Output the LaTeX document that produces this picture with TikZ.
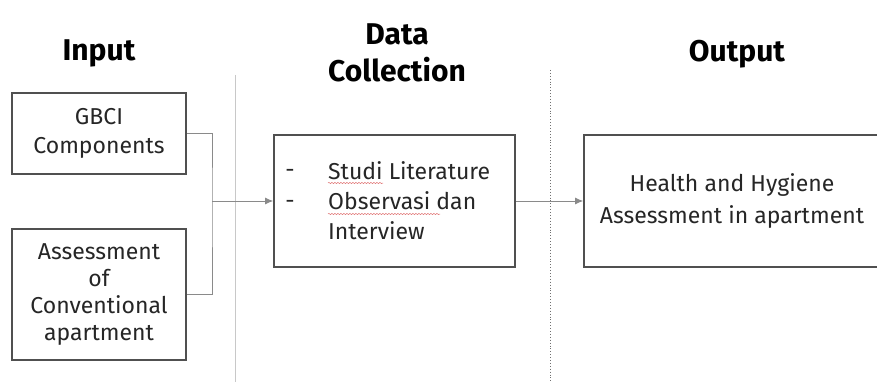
\documentclass[tikz,border=0pt]{standalone}
\usepackage{fontspec}
\setmainfont{Fira Sans}
\usetikzlibrary{arrows.meta,decorations.pathmorphing}
\definecolor{boxgray}{HTML}{505050}
\definecolor{txtgray}{HTML}{262626}
\definecolor{lingray}{HTML}{8A8A8A}
\definecolor{sepgray}{HTML}{C8C8C8}
\definecolor{dotgray}{HTML}{707070}
\definecolor{squig}{HTML}{E07070}
\begin{document}
\begin{tikzpicture}[x=1pt,y=-1pt,
 box/.style={draw=boxgray, line width=1.6pt, inner sep=0pt, text=txtgray, align=center,
   font=\fontsize{23}{29}\selectfont},
 head/.style={font=\fontsize{30}{37}\selectfont\bfseries, text=black, align=center, inner sep=0pt},
 body/.style={font=\fontsize{23}{30}\selectfont, text=txtgray, inner sep=0pt},
 conn/.style={draw=lingray, line width=0.9pt},
 arr/.style={conn, -{Latex[length=8pt,width=7pt]}},
 squiggle/.style={draw=squig, line width=0.5pt, decorate,
   decoration={snake, amplitude=0.6pt, segment length=3pt}},
]
\fill[white] (0,0) rectangle (877,382);
\useasboundingbox (0,0) rectangle (877,382);

% separators
\coordinate (s1t) at (235,75);
\coordinate (s1b) at (235,382);
\coordinate (s2t) at (550,70);
\coordinate (s2b) at (550,382);
\draw[sepgray, line width=1pt] (s1t) -- (s1b);
\draw[dotgray, line width=0.9pt, dotted] (s2t) -- (s2b);

% headings
\node[head, anchor=base] (hin) at (99,61) {Input};
\node[head] (hdc) at (397,53) {Data\\Collection};
\node[head, anchor=base] (hout) at (737,62) {Output};

% boxes
\node[box, minimum width=174pt, minimum height=81pt] (gbci) at (99,133.5) {GBCI\\Components};
\node[box, minimum width=174pt, minimum height=131pt, font=\fontsize{23}{27}\selectfont] (assess) at (99,294.5)
  {Assessment\\of\\Conventional\\apartment};
\node[box, minimum width=241pt, minimum height=132pt] (coll) at (394.5,201) {};
\node[box, minimum width=296pt, minimum height=132pt, font=\fontsize{23}{32}\selectfont] (out) at (732,201)
  {Health and Hygiene\\Assessment in apartment};

% collection box content
\node[body, anchor=base] (d1) at (290,178) {-};
\node[body, anchor=base] (d2) at (290,208) {-};
\node[body, anchor=west, align=left] (ctext) at (328,201) {Studi Literature\\Observasi dan\\Interview};
\draw[squiggle] (328,183) -- (383,183);
\draw[squiggle] (328,214) -- (440,214);

% connectors
\coordinate (junc) at (212,201);
\draw[conn] (gbci.east) -| (junc) |- (assess.east);
\draw[arr] (junc) -- (coll.west);
\draw[arr] (coll.east) -- (out.west);
\end{tikzpicture}
\end{document}
